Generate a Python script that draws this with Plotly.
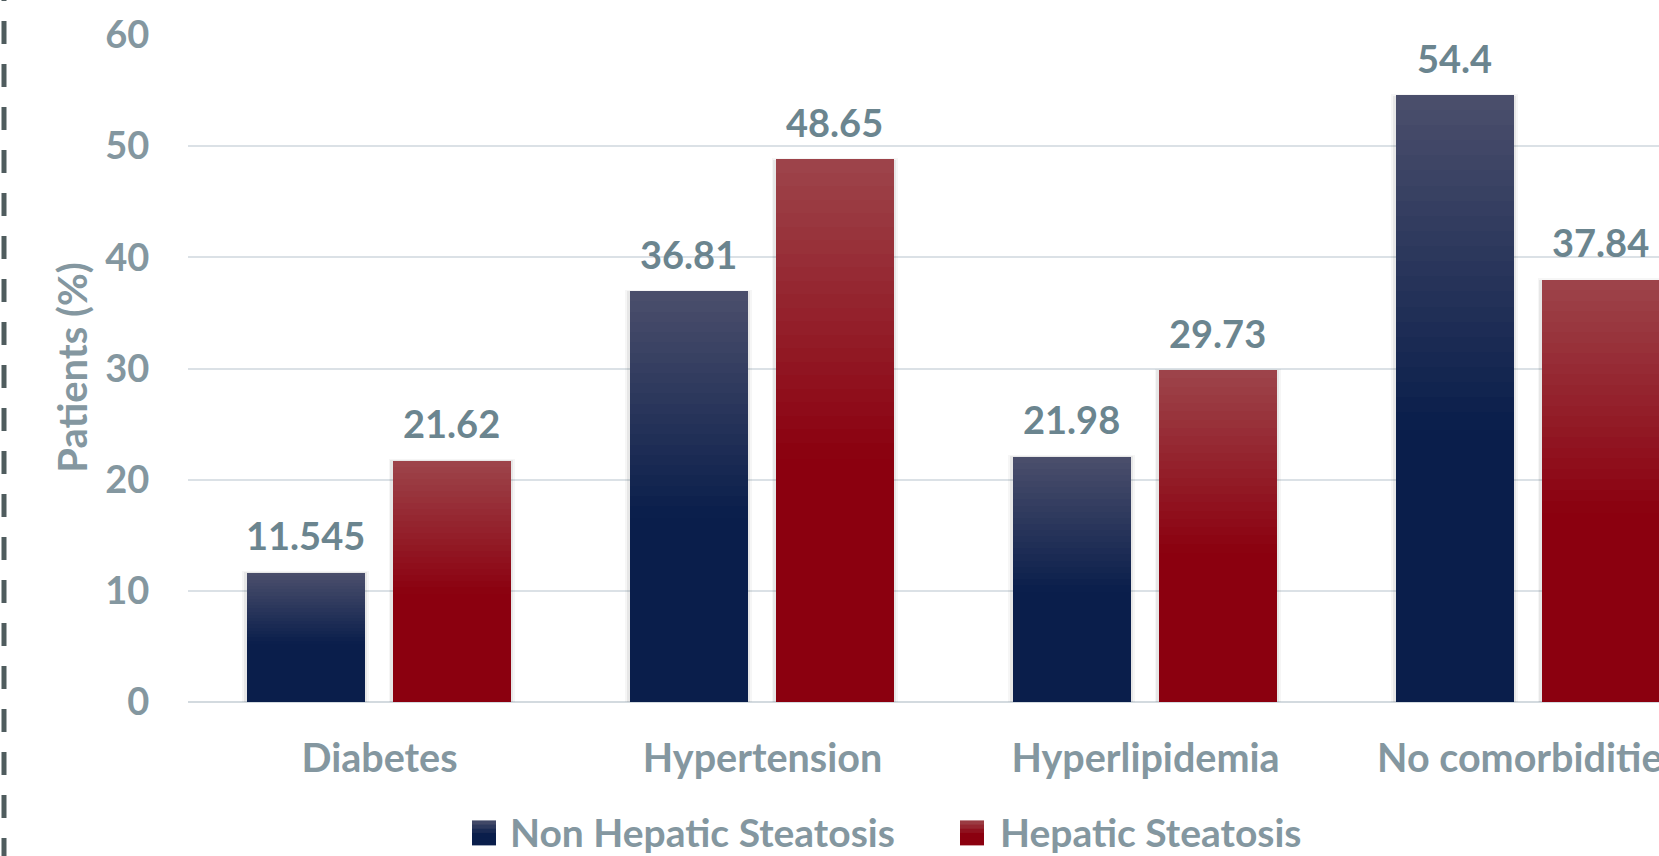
import plotly.graph_objects as go

categories = ["Diabetes", "Hypertension", "Hyperlipidemia", "No comorbidities"]
series_names = ["Non Hepatic Steatosis", "Hepatic Steatosis"]
non_hepatic = [11.545, 36.81, 21.98, 54.4]
hepatic = [21.62, 48.65, 29.73, 37.84]
y_ticks = [0, 10, 20, 30, 40, 50, 60]

W, H = 1659, 856
L, R, T, B = 188, 0, 35, 153.5
PW, PH = W - L - R, H - T - B

FONT = "Lato"
TICK_COL = "#8497a0"
LABEL_COL = "#6b858f"

def px2x(p):
    return (p - L) / PW

def px2y(p):
    return (H - B - p) / PH

def hex2rgb(h):
    h = h.lstrip("#")
    return tuple(int(h[i:i + 2], 16) for i in (0, 2, 4))

def mix(c1, c2, t):
    a, b = hex2rgb(c1), hex2rgb(c2)
    return "rgb(%d,%d,%d)" % tuple(round(a[i] + (b[i] - a[i]) * t) for i in range(3))

series = [
    dict(name=series_names[0], vals=non_hepatic, top="#4b4f6c", bot="#0a1e4b", offset=-0.347),
    dict(name=series_names[1], vals=hepatic, top="#9d454b", bot="#8b000f", offset=0.0345),
]
BW = 0.309
xs = list(range(len(categories)))
NB = 22
GRAD_END = 0.55

fig = go.Figure()
for s in series:
    v = s["vals"]
    # soft shadow
    for pad, alpha in [(0.022, 0.035), (0.012, 0.06)]:
        fig.add_trace(go.Bar(
            x=xs, y=[val + pad * 12 for val in v], base=0,
            width=BW + pad, offset=s["offset"] - pad / 2,
            marker=dict(color="rgba(0,0,0,%g)" % alpha, line=dict(width=0)),
            showlegend=False, hoverinfo="skip"))
    fig.add_trace(go.Bar(
        x=xs, y=v, width=BW, offset=s["offset"], name=s["name"],
        marker=dict(color=s["bot"], line=dict(width=0)), showlegend=False))
    for k in range(NB):
        t0 = k / NB * GRAD_END
        t1 = (k + 1) / NB * GRAD_END
        col = mix(s["top"], s["bot"], (k + 0.5) / NB)
        fig.add_trace(go.Bar(
            x=xs, y=[val * (t1 - t0) + val * 0.004 for val in v],
            base=[val * (1 - t1) for val in v],
            width=BW, offset=s["offset"],
            marker=dict(color=col, line=dict(width=0)),
            showlegend=False, hoverinfo="skip"))

annotations = []
for s in series:
    for i, val in enumerate(s["vals"]):
        annotations.append(dict(
            x=i + s["offset"] + BW / 2, y=val, xref="x", yref="y",
            text=f"{val:g}", showarrow=False, yanchor="bottom", yshift=14,
            font=dict(family=FONT, size=38, color=LABEL_COL, weight="bold")))

# y axis title
annotations.append(dict(
    x=px2x(72), y=px2y(368), xref="paper", yref="paper", text="Patients (%)",
    textangle=-90, showarrow=False, xanchor="center", yanchor="middle",
    font=dict(family=FONT, size=40, color=TICK_COL, weight="bold")))

# manual legend
shapes = []
legend_items = [
    (series[0], 472, 508),
    (series[1], 960, 998),
]
sq_top, sq_bot = 821, 846
for s, sx, tx in legend_items:
    n = 6
    for k in range(n):
        y0 = sq_top + (sq_bot - sq_top) * k / n
        y1 = sq_top + (sq_bot - sq_top) * (k + 1) / n
        tt = min(1.0, (k + 0.5) / n / GRAD_END)
        shapes.append(dict(type="rect", xref="paper", yref="paper",
                           x0=px2x(sx), x1=px2x(sx + 24),
                           y0=px2y(min(sq_bot, y1 + 1.2)), y1=px2y(y0),
                           fillcolor=mix(s["top"], s["bot"], tt), line=dict(width=0), layer="above"))
    annotations.append(dict(
        x=px2x(tx), y=px2y(833), xref="paper", yref="paper", text=s["name"],
        showarrow=False, xanchor="left", yanchor="middle",
        font=dict(family=FONT, size=39, color=TICK_COL, weight="bold")))

# dashed frame line at left
shapes.append(dict(type="line", xref="paper", yref="paper",
                   x0=px2x(4), x1=px2x(4), y0=px2y(-22), y1=px2y(H + 10),
                   line=dict(color="#4f5c5e", width=5, dash="23px,20px"), layer="above"))

fig.update_layout(
    width=W, height=H,
    margin=dict(l=L, r=R, t=T, b=B, pad=0, autoexpand=False),
    paper_bgcolor="white", plot_bgcolor="white",
    barmode="overlay", bargap=0,
    showlegend=False,
    xaxis=dict(type="linear", range=[-0.5, -0.5 + PW / 383.0], automargin=False,
               tickvals=xs, ticktext=categories, showgrid=False, zeroline=False,
               showline=False, ticks="outside", ticklen=22, tickcolor="rgba(0,0,0,0)",
               ticklabeloverflow="allow",
               tickfont=dict(family=FONT, size=39.5, color=TICK_COL, weight="bold")),
    yaxis=dict(range=[0, 60], tickvals=y_ticks, showgrid=True, gridcolor="#dbe1e6",
               automargin=False,
               gridwidth=1.5, zeroline=True, zerolinecolor="#d3dadf", zerolinewidth=2,
               showline=False, ticks="outside", ticklen=30, tickcolor="rgba(0,0,0,0)",
               tickfont=dict(family=FONT, size=38, color=TICK_COL, weight="bold")),
    annotations=annotations, shapes=shapes,
)

fig.write_html("out.html")
